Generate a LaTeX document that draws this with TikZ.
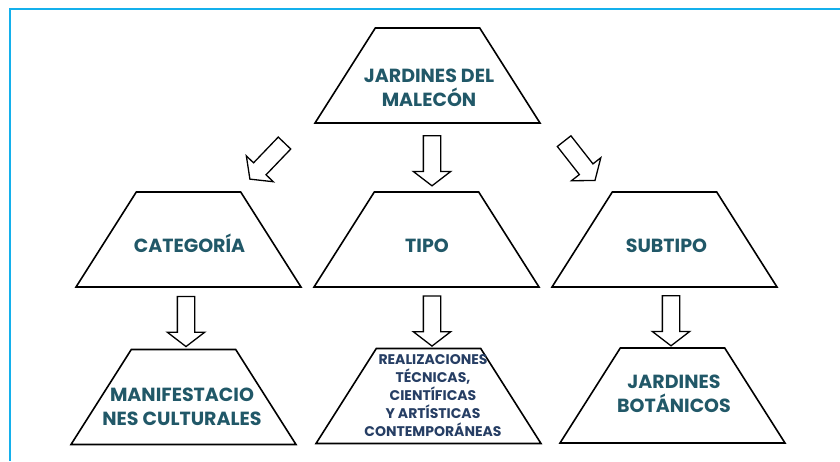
\documentclass[tikz,border=0pt]{standalone}
\usepackage{fontspec}
\setmainfont{Poppins}
\usepackage{tikz}
\usetikzlibrary{shapes.geometric, shapes.arrows, calc}

\definecolor{frameblue}{RGB}{20,176,236}
\definecolor{jardteal}{RGB}{33,88,104}
\definecolor{realblue}{RGB}{38,62,100}

\tikzset{
  trap/.style={trapezium, draw, line width=1.6pt, trapezium left angle=60,
    trapezium right angle=60, trapezium stretches=true,
    minimum width=225pt, minimum height=95pt, inner sep=2pt},
  txt/.style={align=center, inner sep=0pt, text=jardteal,
    font=\bfseries\fontsize{19}{24}\selectfont},
  blk/.style={single arrow, draw, fill=white, line width=1.3pt,
    minimum height=50pt, inner xsep=0pt, inner ysep=8pt,
    single arrow head extend=10pt, single arrow tip angle=105}
}

\begin{document}
\begin{tikzpicture}[x=1pt, y=1pt]
  \useasboundingbox (0,0) rectangle (840,461);
  \draw[frameblue, line width=2pt] (840,452) -- (10,452) -- (10,0);

  % trapecios
  \node[trap] (jard) at (427.5,385.5) {};
  \node[trap] (cat) at (188.5,221.5) {};
  \node[trap] (tipo) at (426.5,221.5) {};
  \node[trap] (sub) at (664.5,221.5) {};
  \node[trap] (manif) at (183.5,64) {};
  \node[trap] (real) at (428.5,65) {};
  \node[trap] (bot) at (672.5,65.5) {};

  % textos
  \node[txt] (jardtxt) at (429,373) {JARDINES DEL\\MALECÓN};
  \node[txt] (cattxt) at (189.5,218) {CATEGORÍA};
  \node[txt] (tipotxt) at (427,215) {TIPO};
  \node[txt] (subtxt) at (666.5,215.3) {SUBTIPO};
  \node[txt] (maniftxt) at (182,54.5) {MANIFESTACIO\\NES CULTURALES};
  \node[txt, text=realblue, font=\bfseries\fontsize{14}{18}\selectfont] (realtxt) at (433,65)
    {REALIZACIONES\\TÉCNICAS,\\CIENTÍFICAS\\Y ARTÍSTICAS\\CONTEMPORÁNEAS};
  \node[txt] (bottxt) at (674,67.5) {JARDINES\\BOTÁNICOS};

  % flechas
  \node[blk, rotate=-133.8] (a0) at (269.5,302.3) {};
  \node[blk, rotate=-90] (a1) at ($(jard.south)!.5!(tipo.north) + (5,0)$) {};
  \node[blk, rotate=-51.9] (a2) at (577.5,302.8) {};
  \node[blk, rotate=-90] (a3) at ($(cat.south)!.5!(manif.north)$) {};
  \node[blk, rotate=-90] (a4) at ($(tipo.south)!.5!(real.north) + (4.5,0)$) {};
  \node[blk, rotate=-90] (a5) at ($(sub.south)!.5!(bot.north) + (2.5,0)$) {};
\end{tikzpicture}
\end{document}
